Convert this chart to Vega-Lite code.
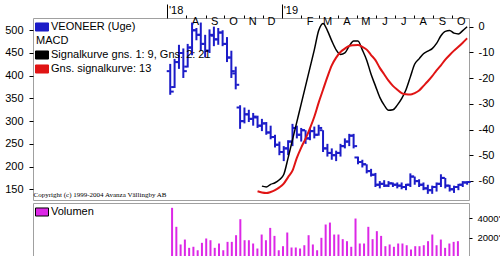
{
  "$schema": "https://vega.github.io/schema/vega-lite/v6.json",
  "padding": {"left": 4, "top": 3, "right": 0, "bottom": 0},
  "background": "white",
  "datasets": {
    "px": [
      {"d": "2018-07-06", "o": 410, "h": 426, "l": 358, "c": 365, "v": 5100},
      {"d": "2018-07-13", "o": 375, "h": 437, "l": 373, "c": 430, "v": 3130},
      {"d": "2018-07-20", "o": 430, "h": 468, "l": 415, "c": 450, "v": 1300},
      {"d": "2018-07-27", "o": 450, "h": 460, "l": 395, "c": 410, "v": 1810},
      {"d": "2018-08-03", "o": 420, "h": 470, "l": 418, "c": 462, "v": 950},
      {"d": "2018-08-10", "o": 462, "h": 517, "l": 445, "c": 500, "v": 1060},
      {"d": "2018-08-17", "o": 500, "h": 505, "l": 478, "c": 490, "v": 700},
      {"d": "2018-08-24", "o": 490, "h": 517, "l": 455, "c": 470, "v": 1470},
      {"d": "2018-08-31", "o": 470, "h": 490, "l": 440, "c": 455, "v": 1920},
      {"d": "2018-09-07", "o": 455, "h": 502, "l": 450, "c": 490, "v": 1740},
      {"d": "2018-09-14", "o": 488, "h": 508, "l": 465, "c": 480, "v": 950},
      {"d": "2018-09-21", "o": 480, "h": 505, "l": 468, "c": 495, "v": 1400},
      {"d": "2018-09-28", "o": 495, "h": 500, "l": 465, "c": 470, "v": 700},
      {"d": "2018-10-05", "o": 470, "h": 485, "l": 430, "c": 440, "v": 1570},
      {"d": "2018-10-12", "o": 440, "h": 455, "l": 395, "c": 410, "v": 1570},
      {"d": "2018-10-19", "o": 405, "h": 420, "l": 370, "c": 380, "v": 2260},
      {"d": "2018-10-26", "o": 330, "h": 335, "l": 283, "c": 300, "v": 3920},
      {"d": "2018-11-02", "o": 300, "h": 330, "l": 295, "c": 315, "v": 1740},
      {"d": "2018-11-09", "o": 315, "h": 325, "l": 298, "c": 305, "v": 1740},
      {"d": "2018-11-16", "o": 305, "h": 318, "l": 290, "c": 310, "v": 1400},
      {"d": "2018-11-23", "o": 308, "h": 312, "l": 285, "c": 290, "v": 880},
      {"d": "2018-11-30", "o": 290, "h": 305, "l": 278, "c": 295, "v": 2330},
      {"d": "2018-12-07", "o": 295, "h": 298, "l": 270, "c": 275, "v": 1740},
      {"d": "2018-12-14", "o": 275, "h": 290, "l": 260, "c": 265, "v": 3020},
      {"d": "2018-12-21", "o": 265, "h": 270, "l": 242, "c": 248, "v": 2190},
      {"d": "2018-12-28", "o": 248, "h": 255, "l": 225, "c": 232, "v": 700},
      {"d": "2019-01-04", "o": 232, "h": 245, "l": 212, "c": 240, "v": 1120},
      {"d": "2019-01-11", "o": 240, "h": 258, "l": 225, "c": 255, "v": 2540},
      {"d": "2019-01-18", "o": 255, "h": 294, "l": 245, "c": 285, "v": 985},
      {"d": "2019-01-25", "o": 285, "h": 290, "l": 262, "c": 270, "v": 985},
      {"d": "2019-02-01", "o": 270, "h": 285, "l": 255, "c": 280, "v": 880},
      {"d": "2019-02-08", "o": 280, "h": 280, "l": 250, "c": 262, "v": 1220},
      {"d": "2019-02-15", "o": 262, "h": 285, "l": 258, "c": 278, "v": 2260},
      {"d": "2019-02-22", "o": 278, "h": 288, "l": 262, "c": 270, "v": 1300},
      {"d": "2019-03-01", "o": 270, "h": 292, "l": 268, "c": 285, "v": 700},
      {"d": "2019-03-08", "o": 280, "h": 280, "l": 232, "c": 240, "v": 1990},
      {"d": "2019-03-15", "o": 240, "h": 250, "l": 222, "c": 230, "v": 3370},
      {"d": "2019-03-22", "o": 230, "h": 240, "l": 215, "c": 225, "v": 3570},
      {"d": "2019-03-29", "o": 225, "h": 235, "l": 212, "c": 230, "v": 2330},
      {"d": "2019-04-05", "o": 230, "h": 250, "l": 222, "c": 245, "v": 2330},
      {"d": "2019-04-12", "o": 245, "h": 262, "l": 240, "c": 255, "v": 1850},
      {"d": "2019-04-19", "o": 255, "h": 272, "l": 245, "c": 268, "v": 1640},
      {"d": "2019-04-26", "o": 268, "h": 272, "l": 240, "c": 245, "v": 1060},
      {"d": "2019-05-03", "o": 220, "h": 222, "l": 205, "c": 210, "v": 3990},
      {"d": "2019-05-10", "o": 210, "h": 215, "l": 198, "c": 205, "v": 1400},
      {"d": "2019-05-17", "o": 205, "h": 205, "l": 185, "c": 190, "v": 1400},
      {"d": "2019-05-24", "o": 190, "h": 195, "l": 178, "c": 182, "v": 3130},
      {"d": "2019-05-31", "o": 182, "h": 186, "l": 155, "c": 160, "v": 1850},
      {"d": "2019-06-07", "o": 160, "h": 168, "l": 152, "c": 162, "v": 2680},
      {"d": "2019-06-14", "o": 162, "h": 170, "l": 155, "c": 158, "v": 2190},
      {"d": "2019-06-21", "o": 158, "h": 168, "l": 155, "c": 163, "v": 1120},
      {"d": "2019-06-28", "o": 163, "h": 165, "l": 155, "c": 160, "v": 1300},
      {"d": "2019-07-05", "o": 160, "h": 165, "l": 152, "c": 158, "v": 1060},
      {"d": "2019-07-12", "o": 158, "h": 165, "l": 150, "c": 155, "v": 1400},
      {"d": "2019-07-19", "o": 155, "h": 162, "l": 148, "c": 160, "v": 1400},
      {"d": "2019-07-26", "o": 160, "h": 185, "l": 155, "c": 178, "v": 1220},
      {"d": "2019-08-02", "o": 178, "h": 178, "l": 160, "c": 168, "v": 780},
      {"d": "2019-08-09", "o": 168, "h": 172, "l": 155, "c": 160, "v": 1120},
      {"d": "2019-08-16", "o": 160, "h": 165, "l": 148, "c": 152, "v": 1120},
      {"d": "2019-08-23", "o": 152, "h": 160, "l": 140, "c": 148, "v": 1220},
      {"d": "2019-08-30", "o": 148, "h": 158, "l": 140, "c": 155, "v": 1640},
      {"d": "2019-09-06", "o": 155, "h": 165, "l": 145, "c": 162, "v": 2330},
      {"d": "2019-09-13", "o": 162, "h": 183, "l": 155, "c": 175, "v": 1220},
      {"d": "2019-09-20", "o": 175, "h": 175, "l": 152, "c": 158, "v": 1810},
      {"d": "2019-09-27", "o": 158, "h": 160, "l": 145, "c": 150, "v": 950},
      {"d": "2019-10-04", "o": 150, "h": 158, "l": 142, "c": 155, "v": 1400},
      {"d": "2019-10-11", "o": 155, "h": 162, "l": 148, "c": 160, "v": 1570},
      {"d": "2019-10-18", "o": 160, "h": 168, "l": 155, "c": 165, "v": 1640},
      {"d": "2019-10-25", "o": 165, "h": 168, "l": 160, "c": 166, "v": 100}
    ],
    "mx": [
      {"d": "2018-11-23", "m": null, "s": -64},
      {"d": "2018-11-30", "m": -62, "s": -64.5},
      {"d": "2018-12-07", "m": -62.3, "s": -64.7},
      {"d": "2018-12-14", "m": -61.3, "s": -64.3},
      {"d": "2018-12-21", "m": -60.7, "s": -63.6},
      {"d": "2018-12-28", "m": -59.5, "s": -62.5},
      {"d": "2019-01-04", "m": -57.5, "s": -61},
      {"d": "2019-01-11", "m": -51, "s": -58.5},
      {"d": "2019-01-18", "m": -44, "s": -56},
      {"d": "2019-01-25", "m": -37, "s": -51},
      {"d": "2019-02-01", "m": -30, "s": -47},
      {"d": "2019-02-08", "m": -23, "s": -43.5},
      {"d": "2019-02-15", "m": -16, "s": -39.5},
      {"d": "2019-02-22", "m": -9, "s": -35},
      {"d": "2019-03-01", "m": -1.5, "s": -29.5},
      {"d": "2019-03-08", "m": 1.3, "s": -24.5},
      {"d": "2019-03-15", "m": -1.5, "s": -19.5},
      {"d": "2019-03-22", "m": -5.5, "s": -15},
      {"d": "2019-03-29", "m": -9, "s": -12},
      {"d": "2019-04-05", "m": -10.8, "s": -9.8},
      {"d": "2019-04-12", "m": -10.2, "s": -8.5},
      {"d": "2019-04-19", "m": -7.5, "s": -7.5},
      {"d": "2019-04-26", "m": -5.5, "s": -7.2},
      {"d": "2019-05-03", "m": -5.5, "s": -7.1},
      {"d": "2019-05-10", "m": -9, "s": -7.8},
      {"d": "2019-05-17", "m": -13, "s": -8.9},
      {"d": "2019-05-24", "m": -18.5, "s": -11},
      {"d": "2019-05-31", "m": -23, "s": -13},
      {"d": "2019-06-07", "m": -27.5, "s": -16},
      {"d": "2019-06-14", "m": -30.5, "s": -18.5},
      {"d": "2019-06-21", "m": -32.5, "s": -21},
      {"d": "2019-06-28", "m": -32.3, "s": -23},
      {"d": "2019-07-05", "m": -30.5, "s": -24.5},
      {"d": "2019-07-12", "m": -28, "s": -25.8},
      {"d": "2019-07-19", "m": -24.5, "s": -26.3},
      {"d": "2019-07-26", "m": -19.5, "s": -26.4},
      {"d": "2019-08-02", "m": -14.5, "s": -25.8},
      {"d": "2019-08-09", "m": -12.5, "s": -24.8},
      {"d": "2019-08-16", "m": -10.5, "s": -23},
      {"d": "2019-08-23", "m": -9.5, "s": -21.2},
      {"d": "2019-08-30", "m": -8.5, "s": -19.2},
      {"d": "2019-09-06", "m": -6.5, "s": -17},
      {"d": "2019-09-13", "m": -3.5, "s": -15},
      {"d": "2019-09-20", "m": -1.8, "s": -12.8},
      {"d": "2019-09-27", "m": -1.5, "s": -11},
      {"d": "2019-10-04", "m": -2.5, "s": -9.3},
      {"d": "2019-10-11", "m": -2.8, "s": -7.8},
      {"d": "2019-10-18", "m": -1.5, "s": -6.2},
      {"d": "2019-10-25", "m": 0, "s": -4.5}
    ],
    "cr": [{"t": "Copyright (c) 1999-2004 Avanza Vällingby AB"}]
  },
  "config": {
    "font": "Liberation Sans",
    "view": {"stroke": "#a0a0a0", "strokeWidth": 1},
    "axis": {"domain": false, "grid": false, "labelFont": "Liberation Sans", "labelFontSize": 11, "labelColor": "#000", "tickColor": "#000", "title": null}
  },
  "vconcat": [
    {
      "width": 436,
      "height": 182,
      "layer": [
        {
          "data": {"name": "px"},
          "layer": [
            {
              "mark": {"type": "rule", "strokeWidth": 2},
              "encoding": {
                "x": {"field": "d", "type": "temporal",
                  "scale": {"type": "utc", "domain": [1511827200000, 1572220800000]},
                  "axis": {"orient": "top", "title": null, "values": [1530403200000, 1533081600000, 1535760000000, 1538352000000, 1541030400000, 1543622400000, 1546300800000, 1548979200000, 1551398400000, 1554076800000, 1556668800000, 1559347200000, 1561939200000, 1564617600000, 1567296000000, 1569888000000],
                    "labelExpr": "utcmonth(datum.value) == 0 ? \"'19\" : (utcmonth(datum.value) == 6 && utcyear(datum.value) == 2018) ? \"'18\" : ['J','F','M','A','M','J','J','A','S','O','N','D'][utcmonth(datum.value)]",
                    "tickSize": {"condition": {"test": "utcmonth(datum.value) == 0 || (utcmonth(datum.value) == 6 && utcyear(datum.value) == 2018)", "value": 14}, "value": 3},
                    "labelOffset": 8.5, "labelPadding": -11, "labelFontSize": 11}},
                "y": {"field": "l", "type": "quantitative", "scale": {"domain": [126.4, 527], "zero": false, "nice": false},
                  "axis": {"orient": "left", "values": [150, 200, 250, 300, 350, 400, 450, 500], "tickSize": 4, "labelPadding": 6, "title": null}},
                "y2": {"field": "h"},
                "color": {
                  "datum": "VEONEER (Uge)", "type": "nominal",
                  "scale": {
                    "domain": ["VEONEER (Uge)", "MACD", "Signalkurve gns. 1: 9, Gns. 2: 21", "Gns. signalkurve: 13"],
                    "range": ["#1c1cc8", "transparent", "#000000", "#e01414"]
                  },
                  "legend": {
                    "orient": "top-left", "title": null, "offset": 2, "padding": 0, "rowPadding": 0,
                    "labelFont": "Liberation Sans", "labelFontSize": 11, "labelColor": "#000", "labelOffset": 2, "labelLimit": 400,
                    "symbolType": "M-1,-0.62H1V0.62H-1Z", "symbolSize": 169, "symbolStrokeWidth": 1,
                    "encode": {
                      "symbols": {"update": {
                        "fill": {"signal": "datum.value == 'MACD' ? 'transparent' : datum.value == 'VEONEER (Uge)' ? '#1c1cc8' : datum.value == 'Gns. signalkurve: 13' ? '#e01414' : '#000000'"},
                        "stroke": {"signal": "datum.value == 'MACD' ? 'transparent' : '#000000'"},
                        "opacity": {"value": 1}
                      }},
                      "labels": {"update": {"dx": {"signal": "datum.value == 'MACD' ? -15 : 0"}}}
                    }
                  }
                }
              }
            },
            {
              "mark": {"type": "tick", "orient": "horizontal", "size": 3, "thickness": 2, "xOffset": -2, "opacity": 1},
              "encoding": {
                "x": {"field": "d", "type": "temporal",
                  "scale": {"type": "utc", "domain": [1511827200000, 1572220800000]},
                  "axis": {"orient": "top", "title": null, "values": [1530403200000, 1533081600000, 1535760000000, 1538352000000, 1541030400000, 1543622400000, 1546300800000, 1548979200000, 1551398400000, 1554076800000, 1556668800000, 1559347200000, 1561939200000, 1564617600000, 1567296000000, 1569888000000],
                    "labelExpr": "utcmonth(datum.value) == 0 ? \"'19\" : (utcmonth(datum.value) == 6 && utcyear(datum.value) == 2018) ? \"'18\" : ['J','F','M','A','M','J','J','A','S','O','N','D'][utcmonth(datum.value)]",
                    "tickSize": {"condition": {"test": "utcmonth(datum.value) == 0 || (utcmonth(datum.value) == 6 && utcyear(datum.value) == 2018)", "value": 14}, "value": 3},
                    "labelOffset": 8.5, "labelPadding": -11, "labelFontSize": 11}},
                "y": {"field": "o", "type": "quantitative", "scale": {"domain": [126.4, 527], "zero": false, "nice": false},
                  "axis": {"orient": "left", "values": [150, 200, 250, 300, 350, 400, 450, 500], "tickSize": 4, "labelPadding": 6, "title": null}},
                "color": {"datum": "VEONEER (Uge)", "type": "nominal"}
              }
            },
            {
              "mark": {"type": "tick", "orient": "horizontal", "size": 3, "thickness": 2, "xOffset": 2, "opacity": 1},
              "encoding": {
                "x": {"field": "d", "type": "temporal",
                  "scale": {"type": "utc", "domain": [1511827200000, 1572220800000]},
                  "axis": {"orient": "top", "title": null, "values": [1530403200000, 1533081600000, 1535760000000, 1538352000000, 1541030400000, 1543622400000, 1546300800000, 1548979200000, 1551398400000, 1554076800000, 1556668800000, 1559347200000, 1561939200000, 1564617600000, 1567296000000, 1569888000000],
                    "labelExpr": "utcmonth(datum.value) == 0 ? \"'19\" : (utcmonth(datum.value) == 6 && utcyear(datum.value) == 2018) ? \"'18\" : ['J','F','M','A','M','J','J','A','S','O','N','D'][utcmonth(datum.value)]",
                    "tickSize": {"condition": {"test": "utcmonth(datum.value) == 0 || (utcmonth(datum.value) == 6 && utcyear(datum.value) == 2018)", "value": 14}, "value": 3},
                    "labelOffset": 8.5, "labelPadding": -11, "labelFontSize": 11}},
                "y": {"field": "c", "type": "quantitative", "scale": {"domain": [126.4, 527], "zero": false, "nice": false},
                  "axis": {"orient": "left", "values": [150, 200, 250, 300, 350, 400, 450, 500], "tickSize": 4, "labelPadding": 6, "title": null}},
                "color": {"datum": "VEONEER (Uge)", "type": "nominal"}
              }
            },
            {
              "data": {"name": "cr"},
              "mark": {"type": "text", "font": "Liberation Serif", "fontSize": 7, "align": "left", "baseline": "middle", "color": "#000"},
              "encoding": {
                "x": {"datum": 1511913600000, "type": "temporal",
                  "scale": {"type": "utc", "domain": [1511827200000, 1572220800000]},
                  "axis": {"orient": "top", "title": null, "values": [1530403200000, 1533081600000, 1535760000000, 1538352000000, 1541030400000, 1543622400000, 1546300800000, 1548979200000, 1551398400000, 1554076800000, 1556668800000, 1559347200000, 1561939200000, 1564617600000, 1567296000000, 1569888000000],
                    "labelExpr": "utcmonth(datum.value) == 0 ? \"'19\" : (utcmonth(datum.value) == 6 && utcyear(datum.value) == 2018) ? \"'18\" : ['J','F','M','A','M','J','J','A','S','O','N','D'][utcmonth(datum.value)]",
                    "tickSize": {"condition": {"test": "utcmonth(datum.value) == 0 || (utcmonth(datum.value) == 6 && utcyear(datum.value) == 2018)", "value": 14}, "value": 3},
                    "labelOffset": 8.5, "labelPadding": -11, "labelFontSize": 11}},
                "y": {"datum": 137, "type": "quantitative", "scale": {"domain": [126.4, 527], "zero": false, "nice": false},
                  "axis": {"orient": "left", "values": [150, 200, 250, 300, 350, 400, 450, 500], "tickSize": 4, "labelPadding": 6, "title": null}},
                "text": {"field": "t", "type": "nominal"}
              }
            }
          ]
        },
        {
          "data": {"name": "mx"},
          "layer": [
            {
              "mark": {"type": "line", "strokeWidth": 1.5, "interpolate": "monotone"},
              "encoding": {
                "x": {"field": "d", "type": "temporal",
                  "scale": {"type": "utc", "domain": [1511827200000, 1572220800000]},
                  "axis": {"orient": "top", "title": null, "values": [1530403200000, 1533081600000, 1535760000000, 1538352000000, 1541030400000, 1543622400000, 1546300800000, 1548979200000, 1551398400000, 1554076800000, 1556668800000, 1559347200000, 1561939200000, 1564617600000, 1567296000000, 1569888000000],
                    "labelExpr": "utcmonth(datum.value) == 0 ? \"'19\" : (utcmonth(datum.value) == 6 && utcyear(datum.value) == 2018) ? \"'18\" : ['J','F','M','A','M','J','J','A','S','O','N','D'][utcmonth(datum.value)]",
                    "tickSize": {"condition": {"test": "utcmonth(datum.value) == 0 || (utcmonth(datum.value) == 6 && utcyear(datum.value) == 2018)", "value": 14}, "value": 3},
                    "labelOffset": 8.5, "labelPadding": -11, "labelFontSize": 11}},
                "y": {"field": "m", "type": "quantitative", "scale": {"domain": [-67.4, 3.4], "zero": false, "nice": false},
                  "axis": {"orient": "right", "values": [-60, -50, -40, -30, -20, -10, 0], "tickSize": 4, "labelPadding": 5, "title": null,
                    "labelExpr": "datum.value < 0 ? '-' + (-datum.value) : '' + datum.value"}},
                "color": {"datum": "Signalkurve gns. 1: 9, Gns. 2: 21", "type": "nominal"}
              }
            },
            {
              "mark": {"type": "line", "strokeWidth": 2, "interpolate": "monotone"},
              "encoding": {
                "x": {"field": "d", "type": "temporal",
                  "scale": {"type": "utc", "domain": [1511827200000, 1572220800000]},
                  "axis": {"orient": "top", "title": null, "values": [1530403200000, 1533081600000, 1535760000000, 1538352000000, 1541030400000, 1543622400000, 1546300800000, 1548979200000, 1551398400000, 1554076800000, 1556668800000, 1559347200000, 1561939200000, 1564617600000, 1567296000000, 1569888000000],
                    "labelExpr": "utcmonth(datum.value) == 0 ? \"'19\" : (utcmonth(datum.value) == 6 && utcyear(datum.value) == 2018) ? \"'18\" : ['J','F','M','A','M','J','J','A','S','O','N','D'][utcmonth(datum.value)]",
                    "tickSize": {"condition": {"test": "utcmonth(datum.value) == 0 || (utcmonth(datum.value) == 6 && utcyear(datum.value) == 2018)", "value": 14}, "value": 3},
                    "labelOffset": 8.5, "labelPadding": -11, "labelFontSize": 11}},
                "y": {"field": "s", "type": "quantitative", "scale": {"domain": [-67.4, 3.4], "zero": false, "nice": false},
                  "axis": {"orient": "right", "values": [-60, -50, -40, -30, -20, -10, 0], "tickSize": 4, "labelPadding": 5, "title": null,
                    "labelExpr": "datum.value < 0 ? '-' + (-datum.value) : '' + datum.value"}},
                "color": {"datum": "Gns. signalkurve: 13", "type": "nominal"}
              }
            }
          ]
        }
      ],
      "resolve": {"scale": {"y": "independent"}}
    },
    {
      "width": 436,
      "height": 54,
      "data": {"name": "px"},
      "mark": {"type": "bar", "size": 2},
      "encoding": {
        "x": {"field": "d", "type": "temporal",
          "scale": {"type": "utc", "domain": [1511827200000, 1572220800000]},
          "axis": null},
        "y": {"field": "v", "type": "quantitative", "scale": {"domain": [0, 5600], "nice": false},
          "axis": {"orient": "right", "values": [0, 2000, 4000], "tickSize": 3, "labelPadding": 5, "labelFontSize": 9.5, "title": null,
            "labelExpr": "datum.value == 0 ? '' : datum.value + \"'\""}},
        "color": {
          "datum": "Volumen", "type": "nominal",
          "scale": {"domain": ["Volumen"], "range": ["#dc28e6"]},
          "legend": {
            "orient": "top-left", "title": null, "offset": 2, "padding": 0,
            "labelFont": "Liberation Sans", "labelFontSize": 11, "labelColor": "#000", "labelOffset": 2,
            "symbolType": "M-1,-0.62H1V0.62H-1Z", "symbolSize": 169, "symbolStrokeWidth": 1, "symbolStrokeColor": "#000",
            "encode": {"symbols": {"update": {"fill": {"value": "#dc28e6"}, "stroke": {"value": "#000"}, "opacity": {"value": 1}}}}
          }
        }
      }
    }
  ],
  "spacing": 1,
  "resolve": {"scale": {"color": "independent"}, "legend": {"color": "independent"}}
}
